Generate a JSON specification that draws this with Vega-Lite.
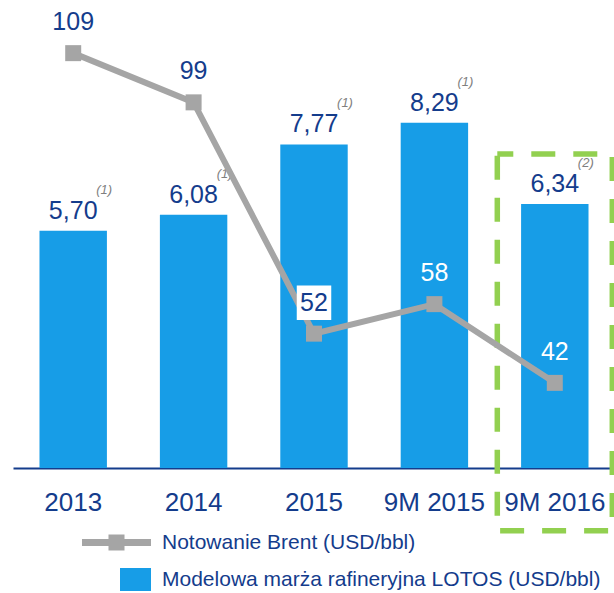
{
  "$schema": "https://vega.github.io/schema/vega-lite/v6.json",
  "width": 602,
  "height": 468,
  "autosize": "none",
  "padding": {"left": 13, "top": 0, "right": 0, "bottom": 125},
  "background": "white",
  "config": {
    "view": {"stroke": null},
    "font": "Liberation Sans",
    "locale": {"number": {"decimal": ",", "thousands": " ", "grouping": [3], "currency": ["", " zł"]}}
  },
  "datasets": {
    "main": [
      {"cat": "2013", "margin": 5.70, "brent": 109, "note": "(1)"},
      {"cat": "2014", "margin": 6.08, "brent": 99, "note": "(1)"},
      {"cat": "2015", "margin": 7.77, "brent": 52, "note": "(1)"},
      {"cat": "9M 2015", "margin": 8.29, "brent": 58, "note": "(1)"},
      {"cat": "9M 2016", "margin": 6.34, "brent": 42, "note": "(2)"}
    ],
    "highlight": [{"cat": "9M 2016", "top": 7.54, "bottom": -1.51}]
  },
  "data": {"name": "main"},
  "encoding": {
    "x": {
      "field": "cat", "type": "nominal", "sort": null, "title": null,
      "scale": {"paddingInner": 0.44, "paddingOuter": 0.22},
      "axis": {
        "domainColor": "#143c8c", "domainWidth": 2, "ticks": false, "grid": false,
        "labelFontSize": 26, "labelColor": "#143c8c", "labelPadding": 21, "labelAngle": 0,
        "labelFont": "Liberation Sans"
      }
    }
  },
  "layer": [
    {
      "encoding": {
        "y": {"field": "margin", "type": "quantitative", "scale": {"domain": [0, 11.24], "nice": false, "zero": false}, "axis": null}
      },
      "layer": [
        {
          "mark": {"type": "bar"},
          "encoding": {
            "color": {
              "datum": "Modelowa marża rafineryjna LOTOS (USD/bbl)", "type": "nominal",
              "scale": {"range": ["#179de7"]},
              "legend": {
                "orient": "none", "legendX": 107, "legendY": 564, "title": null,
                "symbolType": "M-1,-0.742H1V0.742H-1Z", "symbolSize": 961, "symbolStrokeWidth": 0,
                "labelFontSize": 21, "labelColor": "#143c8c", "labelFont": "Liberation Sans",
                "labelOffset": 11, "labelLimit": 600, "padding": 0
              }
            }
          }
        },
        {
          "data": {"name": "highlight"},
          "mark": {"type": "bar", "width": 115, "fillOpacity": 0, "stroke": "#92d050", "strokeWidth": 5.5, "strokeDash": [24, 18], "strokeDashOffset": 8},
          "encoding": {
            "y": {"field": "top", "type": "quantitative", "scale": {"domain": [0, 11.24], "nice": false, "zero": false}, "axis": null},
            "y2": {"field": "bottom"}
          }
        },
        {
          "mark": {"type": "text", "baseline": "alphabetic", "dy": -12, "fontSize": 25, "color": "#143c8c", "font": "Liberation Sans"},
          "encoding": {"text": {"field": "margin", "type": "quantitative", "format": ".2f"}}
        },
        {
          "mark": {"type": "text", "baseline": "middle", "dx": 31, "dy": -41, "fontSize": 13, "fontStyle": "italic", "color": "#7f7f7f", "font": "Liberation Sans"},
          "encoding": {"text": {"field": "note", "type": "nominal"}}
        }
      ]
    },
    {
      "encoding": {
        "y": {"field": "brent", "type": "quantitative", "scale": {"domain": [24.7, 119.8], "nice": false, "zero": false}, "axis": null}
      },
      "layer": [
        {
          "mark": {"type": "line", "strokeWidth": 6},
          "encoding": {
            "stroke": {
              "datum": "Notowanie Brent (USD/bbl)", "type": "nominal",
              "scale": {"range": ["#a5a5a5"]},
              "legend": {
                "orient": "none", "legendX": 69, "legendY": 508, "title": null,
                "symbolType": "M-1,-0.1H1V0.1H-1Z M-0.232,-0.232H0.232V0.232H-0.232Z",
                "symbolSize": 4761, "symbolFillColor": "#a5a5a5", "symbolStrokeWidth": 0,
                "labelFontSize": 21, "labelColor": "#143c8c", "labelFont": "Liberation Sans",
                "labelOffset": 11, "labelLimit": 600, "padding": 0,
                "encode": {"symbols": {"update": {"fill": {"value": "#a5a5a5"}, "stroke": {"value": "transparent"}, "opacity": {"value": 1}}}}
              }
            }
          }
        },
        {
          "mark": {"type": "point", "shape": "square", "filled": true, "size": 256, "color": "#a5a5a5", "opacity": 1}
        },
        {
          "transform": [{"filter": "datum.cat === '2015'"}],
          "mark": {"type": "point", "shape": "square", "filled": true, "size": 1190, "color": "white", "opacity": 1, "yOffset": -31}
        },
        {
          "mark": {"type": "text", "baseline": "middle", "dy": -31, "fontSize": 25, "font": "Liberation Sans"},
          "encoding": {
            "text": {"field": "brent", "type": "quantitative", "format": "d"},
            "color": {"condition": {"test": "datum.cat === '9M 2015' || datum.cat === '9M 2016'", "value": "white"}, "value": "#143c8c"}
          }
        }
      ]
    }
  ],
  "resolve": {"scale": {"y": "independent"}}
}
